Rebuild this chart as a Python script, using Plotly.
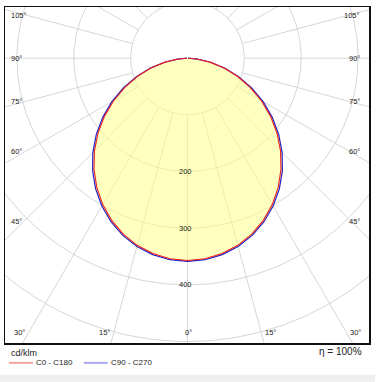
import numpy as np
import plotly.graph_objects as go

# ---------------- data ----------------
gamma = [0, 5, 10, 15, 20, 25, 30, 35, 40, 45, 50, 55, 60, 65, 70, 75, 80, 85, 90]
c0 = [357, 355.3, 350.2, 341.9, 330.3, 315.7, 298.3, 278.2, 255.8, 231.5, 205.5,
      178.2, 150.1, 121.6, 93.4, 65.9, 40.0, 16.9, 1]
c180 = [357, 355.3, 350.2, 341.9, 330.3, 315.7, 298.3, 278.2, 255.8, 231.5, 205.5,
        178.2, 150.1, 121.6, 93.4, 65.9, 40.0, 16.9, 1]
c90 = [358.5, 357, 352, 344, 332.8, 318.5, 301.3, 281.7, 259.6, 235.5, 209.4,
       182, 153.6, 124.5, 95.6, 67.4, 41, 17.5, 1]
c270 = [358.5, 357, 352, 344, 332.8, 318.5, 301.3, 281.7, 259.6, 235.5, 209.4,
        182, 153.6, 124.5, 95.6, 67.4, 41, 17.5, 1]

ring_values = [100, 200, 300, 400, 500, 600]
ring_label_values = [200, 300, 400]
radial_angles = list(range(0, 360, 15))
side_label_angles = [45, 60, 75, 90, 105]
bottom_label_angles = [0, 15, 30]
series_names = ["C0 - C180", "C90 - C270"]
unit_label = "cd/klm"
eta_label = "η = 100%"

# ---------------- geometry ----------------
W, H = 376, 382
ML, MR, MT, MB = 5, 6, 5, 39
scale = 0.57  # px per cd/klm
cx_px, cy_px = 188, 56.5
x_range = [-(cx_px - ML) / scale, (W - MR - cx_px) / scale]
y_range = [-((H - MB) - cy_px) / scale, (cy_px - MT) / scale]

FONT = "Arial, Liberation Sans, sans-serif"
GRID = "#d6d6d6"
TXT = "#222"


def polar_xy(r, ang_deg):
    a = np.radians(np.asarray(ang_deg, dtype=float))
    r = np.asarray(r, dtype=float)
    return r * np.sin(a), -r * np.cos(a)


def px_x(px):
    return (px - ML) / (W - ML - MR)


def px_y(py):
    return ((H - MB) - py) / (H - MT - MB)


fig = go.Figure()

# rings
t = np.linspace(0, 360, 361)
for rv in ring_values:
    x, y = polar_xy(np.full_like(t, rv), t)
    fig.add_trace(go.Scatter(x=x, y=y, mode="lines", line=dict(color=GRID, width=1),
                             hoverinfo="skip", showlegend=False))

# radial lines (from first ring outward)
for a in radial_angles:
    x, y = polar_xy([ring_values[0], 2000], [a, a])
    fig.add_trace(go.Scatter(x=x, y=y, mode="lines", line=dict(color=GRID, width=1),
                             hoverinfo="skip", showlegend=False))


def full_curve(right, left):
    ang = [-g for g in gamma[::-1]] + gamma[1:]
    rr = list(left[::-1]) + list(right[1:])
    return polar_xy(rr, ang)


xr, yr = full_curve(c0, c180)
xb, yb = full_curve(c90, c270)

# fill
fig.add_trace(go.Scatter(x=xb, y=yb, mode="lines", fill="toself",
                         fillcolor="rgba(255,255,140,0.55)", line=dict(width=0),
                         hoverinfo="skip", showlegend=False))
# curves
fig.add_trace(go.Scatter(x=xb, y=yb, mode="lines", line=dict(color="#2020c8", width=1.2),
                         name=series_names[1], hoverinfo="skip", showlegend=False))
fig.add_trace(go.Scatter(x=xr, y=yr, mode="lines", line=dict(color="#f02020", width=1.1),
                         name=series_names[0], hoverinfo="skip", showlegend=False))

ann = []
# ring labels
for v in ring_label_values:
    ann.append(dict(x=0, y=-v, text=str(v), showarrow=False, xshift=-2,
                    font=dict(family=FONT, size=7.5, color=TXT)))

# side angle labels
xl_data = (cx_px - 15.5) / scale
for a in side_label_angles:
    ar = np.radians(a)
    yv = -xl_data * np.cos(ar) / np.sin(ar)
    ys = 11 * np.cos(ar)
    ann.append(dict(x=px_x(9), xref="paper", y=yv, yshift=ys, text=f"{a}°", xanchor="left",
                    yanchor="middle", showarrow=False, font=dict(family=FONT, size=7.5, color=TXT)))
    ann.append(dict(x=px_x(363), xref="paper", y=yv, yshift=ys, text=f"{a}°", xanchor="right",
                    yanchor="middle", showarrow=False, font=dict(family=FONT, size=7.5, color=TXT)))

# bottom angle labels
yb_data = (cy_px - 332) / scale
for a in bottom_label_angles:
    xv = -yb_data * np.tan(np.radians(a))
    if a == 0:
        ann.append(dict(x=0, y=yb_data, text=f"{a}°", showarrow=False, xshift=1,
                        yanchor="middle", font=dict(family=FONT, size=7.5, color=TXT)))
    else:
        for s in (-1, 1):
            ann.append(dict(x=s * xv, y=yb_data, text=f"{a}°", showarrow=False,
                            yanchor="middle", xshift=s * 9,
                            font=dict(family=FONT, size=7.5, color=TXT)))

# bottom texts
ann.append(dict(x=px_x(9), y=px_y(353), xref="paper", yref="paper", text=unit_label,
                xanchor="left", yanchor="middle", showarrow=False,
                font=dict(family=FONT, size=9, color=TXT)))
ann.append(dict(x=px_x(34), y=px_y(363), xref="paper", yref="paper", text=series_names[0],
                xanchor="left", yanchor="middle", showarrow=False,
                font=dict(family=FONT, size=8, color=TXT)))
ann.append(dict(x=px_x(109), y=px_y(363), xref="paper", yref="paper", text=series_names[1],
                xanchor="left", yanchor="middle", showarrow=False,
                font=dict(family=FONT, size=8, color=TXT)))
ann.append(dict(x=px_x(365), y=px_y(352), xref="paper", yref="paper", text=eta_label,
                xanchor="right", yanchor="middle", showarrow=False,
                font=dict(family=FONT, size=10, color=TXT)))

shapes = [
    dict(type="line", xref="paper", yref="paper", x0=px_x(9), x1=px_x(33), y0=px_y(363), y1=px_y(363),
         line=dict(color="#f4a4a4", width=2)),
    dict(type="line", xref="paper", yref="paper", x0=px_x(84), x1=px_x(108), y0=px_y(363), y1=px_y(363),
         line=dict(color="#aaaaf2", width=2)),
    dict(type="rect", xref="paper", yref="paper", x0=px_x(0), x1=px_x(W), y0=px_y(375), y1=px_y(H),
         fillcolor="#efefef", line=dict(width=0), layer="below"),
]

fig.update_layout(
    width=W, height=H,
    margin=dict(l=ML, r=MR, t=MT, b=MB, pad=0),
    paper_bgcolor="white", plot_bgcolor="white",
    xaxis=dict(range=x_range, showgrid=False, zeroline=False, showticklabels=False, ticks="",
               showline=True, mirror=True, linecolor="#111", linewidth=1.5, fixedrange=True),
    yaxis=dict(range=y_range, showgrid=False, zeroline=False, showticklabels=False, ticks="",
               showline=True, mirror=True, linecolor="#111", linewidth=1.5, fixedrange=True),
    annotations=ann, shapes=shapes, showlegend=False,
)

fig.write_html("out.html", config={"displayModeBar": False, "staticPlot": True},
               post_script="document.body.style.margin='0';document.body.style.overflow='hidden';")
